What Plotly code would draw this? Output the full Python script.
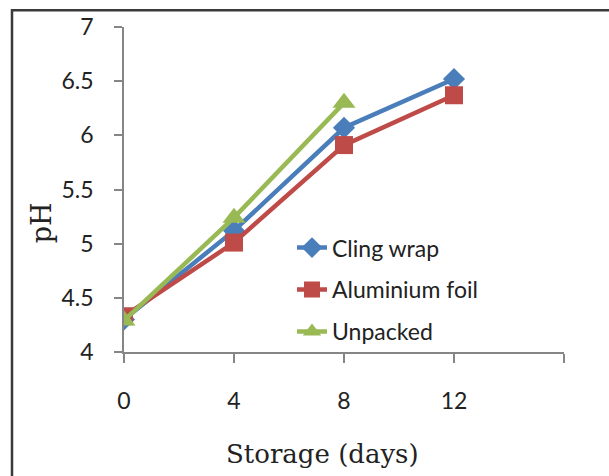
import plotly.graph_objects as go

days = [0, 4, 8, 12]
cling_wrap = [4.30, 5.12, 6.07, 6.52]
aluminium_foil = [4.33, 5.01, 5.91, 6.37]
unpacked_days = [0, 4, 8]
unpacked = [4.29, 5.24, 6.30]

x_tickvals = [0, 4, 8, 12, 16]
x_ticktext = ["0", "4", "8", "12", ""]
y_tickvals = [4, 4.5, 5, 5.5, 6, 6.5, 7]
y_ticktext = ["4", "4.5", "5", "5.5", "6", "6.5", "7"]

W, H = 609, 476
ML, MR, MT, MB = 124, 45, 24, 124
pw = W - ML - MR
ph = H - MT - MB

def px_x(p):
    return (p - ML) / pw

def px_y(p):
    return (H - MB - p) / ph

fig = go.Figure()
fig.add_trace(go.Scatter(x=days, y=cling_wrap, name="Cling wrap", mode="lines+markers",
                         legendgroup="a",
                         line=dict(color="#4A7EBB", width=4.5),
                         marker=dict(symbol="diamond", size=17, color="#4A7EBB")))
fig.add_trace(go.Scatter(x=days, y=aluminium_foil, name="Aluminium foil", mode="lines+markers",
                         legendgroup="b",
                         line=dict(color="#BE4B48", width=4.5),
                         marker=dict(symbol="square", size=18, color="#BE4B48")))
fig.add_trace(go.Scatter(x=unpacked_days, y=unpacked, name="Unpacked", mode="lines+markers",
                         legendgroup="c",
                         line=dict(color="#98B954", width=4.5),
                         marker=dict(symbol="triangle-up", size=20, color="#98B954")))

axis_font = dict(family="Lato, Noto Sans, sans-serif", size=23, color="#222")
title_font = dict(family="DejaVu Serif, serif", size=26, color="#222")

fig.update_layout(
    width=W, height=H,
    margin=dict(l=ML, r=MR, t=MT, b=MB, pad=0),
    paper_bgcolor="white", plot_bgcolor="white",
    showlegend=True,
    legend=dict(x=px_x(292), y=px_y(225), xanchor="left", yanchor="top",
                font=dict(family="Lato, Noto Sans, sans-serif", size=23, color="#222"),
                tracegroupgap=9, bgcolor="rgba(0,0,0,0)"),
    xaxis=dict(range=[0, 16], tickvals=x_tickvals, ticktext=x_ticktext,
               showgrid=False, zeroline=False, showline=True, linecolor="#868686", linewidth=1.5,
               ticks="outside", ticklen=9, tickwidth=1.5, tickcolor="#868686",
               tickfont=axis_font, ticklabelstandoff=19),
    yaxis=dict(range=[4, 7], tickvals=y_tickvals, ticktext=y_ticktext,
               showgrid=False, zeroline=False, showline=True, linecolor="#868686", linewidth=1.5,
               ticks="outside", ticklen=8, tickwidth=1.5, tickcolor="#868686",
               tickfont=axis_font, ticklabelstandoff=16),
    annotations=[
        dict(text="Storage (days)", xref="paper", yref="paper", x=px_x(322), y=px_y(455),
             xanchor="center", yanchor="middle", showarrow=False, font=title_font),
        dict(text="pH", xref="paper", yref="paper", x=px_x(41), y=px_y(222),
             xanchor="center", yanchor="middle", showarrow=False, textangle=-90,
             font=dict(family="DejaVu Serif, serif", size=27, color="#222")),
    ],
    shapes=[dict(type="rect", xref="paper", yref="paper",
                 x0=px_x(12), x1=px_x(660),
                 y0=px_y(520), y1=px_y(7),
                 line=dict(color="#3a3a3a", width=2.5), fillcolor="rgba(0,0,0,0)", layer="below")],
)

fig.write_html("out.html")
